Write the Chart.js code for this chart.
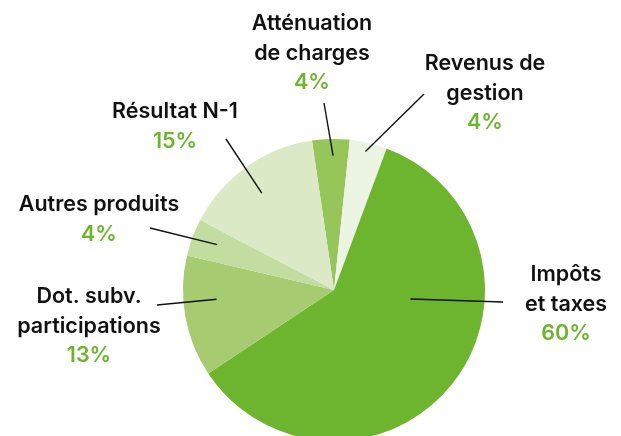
<!DOCTYPE html>
<html lang="fr">
<head>
<meta charset="utf-8">
<title>Recettes de fonctionnement</title>
<script src="https://cdn.jsdelivr.net/npm/chart.js@4.4.1/dist/chart.umd.min.js"></script>
<style>
  html, body { margin: 0; padding: 0; background: #fff; overflow: hidden; }
  #wrap { width: 621px; height: 450px; }
</style>
</head>
<body>
<div id="wrap"><canvas id="pie" width="621" height="450"></canvas></div>
<script>
// Données (ordre horaire, en partant du haut)
const categories = [
  ['Atténuation', 'de charges'],
  ['Revenus de', 'gestion'],
  ['Impôts', 'et taxes'],
  ['Dot. subv.', 'participations'],
  ['Autres produits'],
  ['Résultat N-1']
];
const shares = [4, 4, 60, 13, 4, 15];
const sliceColors = ['#96c55a', '#ecf4e3', '#6eb52f', '#a6cb70', '#c3dda0', '#dbe9c7'];

// Placement des étiquettes et des traits de rappel
const labelLayout = [
  { x: 312, y: 24,  lineTo: [324, 103], angleShift: 0.8,   depth: 0.89 },
  { x: 485, y: 64,  lineTo: [424, 94],  angleShift: -0.4,  depth: 0.94 },
  { x: 566, y: 275, lineTo: [503, 302], angleShift: -31.7, depth: 0.51 },
  { x: 89,  y: 297, lineTo: [157, 305], angleShift: 5.7,   depth: 0.78 },
  { x: 99,  y: 205, lineTo: [150, 228], angleShift: 0.8,   depth: 0.83 },
  { x: 175, y: 112, lineTo: [226, 139], angleShift: -1.3,  depth: 0.80 }
];
const LINE_STEP = 29.5;

const calloutPlugin = {
  id: 'callouts',
  afterDatasetsDraw(chart) {
    const ctx = chart.ctx;
    const arcs = chart.getDatasetMeta(0).data;
    ctx.save();
    arcs.forEach((arc, i) => {
      const lay = labelLayout[i];
      const a = (arc.startAngle + arc.endAngle) / 2 + lay.angleShift * Math.PI / 180;
      const r = arc.outerRadius * lay.depth;
      ctx.beginPath();
      ctx.strokeStyle = '#111';
      ctx.lineWidth = 1.4;
      ctx.moveTo(arc.x + Math.cos(a) * r, arc.y + Math.sin(a) * r);
      ctx.lineTo(lay.lineTo[0], lay.lineTo[1]);
      ctx.stroke();

      ctx.textAlign = 'center';
      ctx.textBaseline = 'middle';
      const lines = categories[i];
      ctx.font = '600 21.5px Inter';
      ctx.fillStyle = '#111';
      lines.forEach((t, k) => ctx.fillText(t, lay.x, lay.y + k * LINE_STEP));
      ctx.fillStyle = '#6eb52f';
      ctx.fillText(shares[i] + '%', lay.x, lay.y + lines.length * LINE_STEP);
    });
    ctx.restore();
  }
};

new Chart(document.getElementById('pie'), {
  type: 'pie',
  data: {
    labels: categories.map(l => l.join(' ')),
    datasets: [{
      data: shares,
      backgroundColor: sliceColors,
      borderWidth: 0
    }]
  },
  options: {
    responsive: false,
    animation: false,
    rotation: -8.4,
    layout: { padding: { left: 183, right: 136, top: 139, bottom: 9 } },
    plugins: {
      legend: { display: false },
      tooltip: { enabled: false }
    }
  },
  plugins: [calloutPlugin]
});
</script>
</body>
</html>
